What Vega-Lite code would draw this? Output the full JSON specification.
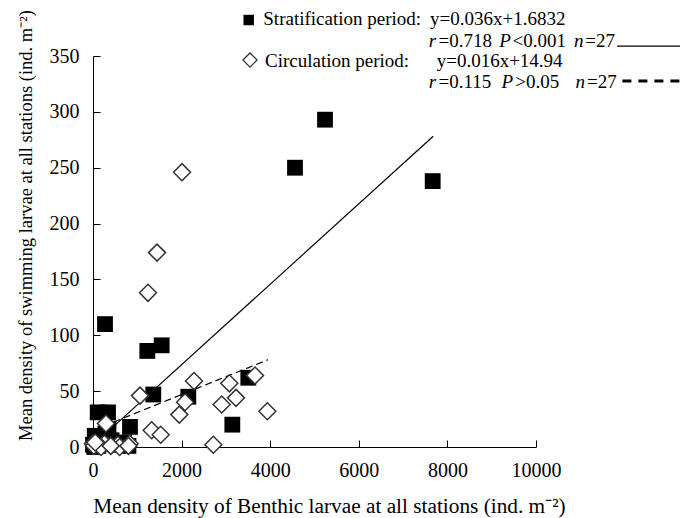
{
  "$schema": "https://vega.github.io/schema/vega-lite/v6.json",
  "width": 443,
  "height": 391,
  "autosize": {"type": "none"},
  "padding": {"left": 93, "top": 56, "right": 147, "bottom": 71},
  "background": "white",
  "config": {
    "view": {"stroke": null},
    "font": "Liberation Serif",
    "text": {"font": "Liberation Serif"},
    "axis": {"labelFont": "Liberation Serif", "titleFont": "Liberation Serif"}
  },
  "datasets": {
    "points": [
      {"period": "Stratification", "benthic": 0, "swimming": 2},
      {"period": "Stratification", "benthic": 30, "swimming": 0},
      {"period": "Stratification", "benthic": 80, "swimming": 5},
      {"period": "Stratification", "benthic": 150, "swimming": 3},
      {"period": "Stratification", "benthic": 200, "swimming": 8},
      {"period": "Stratification", "benthic": 280, "swimming": 12},
      {"period": "Stratification", "benthic": 350, "swimming": 16},
      {"period": "Stratification", "benthic": 420, "swimming": 6},
      {"period": "Stratification", "benthic": 500, "swimming": 3},
      {"period": "Stratification", "benthic": 600, "swimming": 2},
      {"period": "Stratification", "benthic": 700, "swimming": 4},
      {"period": "Stratification", "benthic": 800, "swimming": 1},
      {"period": "Stratification", "benthic": 40, "swimming": 10},
      {"period": "Stratification", "benthic": 120, "swimming": 1},
      {"period": "Stratification", "benthic": 106, "swimming": 31},
      {"period": "Stratification", "benthic": 339, "swimming": 31},
      {"period": "Stratification", "benthic": 835, "swimming": 18},
      {"period": "Stratification", "benthic": 271, "swimming": 110},
      {"period": "Stratification", "benthic": 1226, "swimming": 86},
      {"period": "Stratification", "benthic": 1550, "swimming": 91},
      {"period": "Stratification", "benthic": 1361, "swimming": 47},
      {"period": "Stratification", "benthic": 2151, "swimming": 45},
      {"period": "Stratification", "benthic": 3506, "swimming": 62},
      {"period": "Stratification", "benthic": 3145, "swimming": 20},
      {"period": "Stratification", "benthic": 4560, "swimming": 250},
      {"period": "Stratification", "benthic": 5237, "swimming": 293},
      {"period": "Stratification", "benthic": 7668, "swimming": 238},
      {"period": "Circulation", "benthic": 2009, "swimming": 246},
      {"period": "Circulation", "benthic": 1445, "swimming": 174},
      {"period": "Circulation", "benthic": 1241, "swimming": 138},
      {"period": "Circulation", "benthic": 1061, "swimming": 46},
      {"period": "Circulation", "benthic": 2280, "swimming": 59},
      {"period": "Circulation", "benthic": 2077, "swimming": 40},
      {"period": "Circulation", "benthic": 1948, "swimming": 29},
      {"period": "Circulation", "benthic": 1325, "swimming": 15},
      {"period": "Circulation", "benthic": 1528, "swimming": 11},
      {"period": "Circulation", "benthic": 2716, "swimming": 2},
      {"period": "Circulation", "benthic": 2905, "swimming": 38},
      {"period": "Circulation", "benthic": 3077, "swimming": 57},
      {"period": "Circulation", "benthic": 3228, "swimming": 44},
      {"period": "Circulation", "benthic": 3657, "swimming": 64},
      {"period": "Circulation", "benthic": 3935, "swimming": 32},
      {"period": "Circulation", "benthic": 293, "swimming": 21},
      {"period": "Circulation", "benthic": 0, "swimming": 3},
      {"period": "Circulation", "benthic": 226, "swimming": 2},
      {"period": "Circulation", "benthic": 564, "swimming": 2},
      {"period": "Circulation", "benthic": 828, "swimming": 3},
      {"period": "Circulation", "benthic": 20, "swimming": 1},
      {"period": "Circulation", "benthic": 260, "swimming": 3},
      {"period": "Circulation", "benthic": 180, "swimming": 0},
      {"period": "Circulation", "benthic": 600, "swimming": 0},
      {"period": "Circulation", "benthic": 800, "swimming": 1},
      {"period": "Circulation", "benthic": 50, "swimming": 4},
      {"period": "Circulation", "benthic": 400, "swimming": 1}
    ],
    "fits": [
      {"period": "Stratification", "benthic": 0, "swimming": 1.68},
      {"period": "Stratification", "benthic": 7680, "swimming": 278.2},
      {"period": "Circulation", "benthic": 0, "swimming": 14.94},
      {"period": "Circulation", "benthic": 3950, "swimming": 78.14}
    ],
    "keySymbols": [
      {"period": "Stratification", "benthic": 3515, "swimming": 382.2},
      {"period": "Circulation", "benthic": 3544, "swimming": 346.4}
    ],
    "keyLines": [
      {"period": "Stratification", "benthic": 11830, "swimming": 358.9},
      {"period": "Stratification", "benthic": 13250, "swimming": 358.9},
      {"period": "Circulation", "benthic": 11950, "swimming": 327.6},
      {"period": "Circulation", "benthic": 13318, "swimming": 327.6}
    ],
    "keyText": [
      {"text": "Stratification period:", "benthic": 3844, "swimming": 377.5},
      {"text": "y=0.036x+1.6832", "benthic": 7607, "swimming": 377.5},
      {"text": "=0.718", "benthic": 7800, "swimming": 358.3},
      {"text": "<0.001", "benthic": 9470, "swimming": 358.3},
      {"text": "=27", "benthic": 11110, "swimming": 358.3},
      {"text": "Circulation period:", "benthic": 3883, "swimming": 340.4},
      {"text": "y=0.016x+14.94", "benthic": 7758, "swimming": 340.4},
      {"text": "=0.115", "benthic": 7800, "swimming": 321.1},
      {"text": ">0.05", "benthic": 9530, "swimming": 321.1},
      {"text": "=27", "benthic": 11150, "swimming": 321.1}
    ],
    "keyItalic": [
      {"text": "r", "benthic": 7580, "swimming": 358.3},
      {"text": "P", "benthic": 9170, "swimming": 358.3},
      {"text": "n", "benthic": 10860, "swimming": 358.3},
      {"text": "r", "benthic": 7580, "swimming": 321.1},
      {"text": "P", "benthic": 9220, "swimming": 321.1},
      {"text": "n", "benthic": 10890, "swimming": 321.1}
    ]
  },
  "encoding": {
    "x": {
      "field": "benthic",
      "type": "quantitative",
      "scale": {"domain": [0, 10000], "nice": false, "zero": false},
      "axis": {
        "title": "Mean density of Benthic larvae at all stations (ind. m⁻²)",
        "values": [0, 2000, 4000, 6000, 8000, 10000],
        "format": "d",
        "grid": false,
        "labelFont": "Liberation Serif",
        "labelFontSize": 20,
        "labelColor": "black",
        "labelFlush": false,
        "labelOverlap": false,
        "labelPadding": 20,
        "tickSize": -7,
        "tickColor": "black",
        "tickWidth": 1,
        "domainColor": "black",
        "domainWidth": 1,
        "titleFont": "Liberation Serif",
        "titleFontSize": 21.3,
        "titleFontWeight": "normal",
        "titleColor": "black",
        "titleX": 236,
        "titleY": 65,
        "titleBaseline": "alphabetic"
      }
    },
    "y": {
      "field": "swimming",
      "type": "quantitative",
      "scale": {"domain": [0, 350], "nice": false, "zero": false},
      "axis": {
        "title": "Mean density of swimming larvae at all stations (ind. m⁻²)",
        "values": [0, 50, 100, 150, 200, 250, 300, 350],
        "format": "d",
        "grid": false,
        "labelFont": "Liberation Serif",
        "labelFontSize": 20,
        "labelColor": "black",
        "labelFlush": false,
        "labelOverlap": false,
        "labelPadding": 21,
        "tickSize": -7,
        "tickColor": "black",
        "tickWidth": 1,
        "domainColor": "black",
        "domainWidth": 1,
        "titleFont": "Liberation Serif",
        "titleFontSize": 18.5,
        "titleFontWeight": "normal",
        "titleColor": "black",
        "titleX": -62,
        "titleY": 169,
        "titleBaseline": "alphabetic"
      }
    }
  },
  "layer": [
    {
      "data": {"name": "fits"},
      "transform": [{"filter": "datum.period === 'Stratification'"}],
      "mark": {"type": "line", "color": "black", "strokeWidth": 1.2}
    },
    {
      "data": {"name": "fits"},
      "transform": [{"filter": "datum.period === 'Circulation'"}],
      "mark": {"type": "line", "color": "black", "strokeWidth": 1.2, "strokeDash": [7, 4]}
    },
    {
      "data": {"name": "points"},
      "transform": [{"filter": "datum.period === 'Stratification'"}],
      "mark": {"type": "point", "shape": "square", "filled": true, "color": "black", "opacity": 1, "size": 250}
    },
    {
      "data": {"name": "points"},
      "transform": [{"filter": "datum.period === 'Circulation'"}],
      "mark": {"type": "point", "shape": "diamond", "filled": false, "fill": "white", "fillOpacity": 1, "stroke": "#333333", "strokeWidth": 1.5, "opacity": 1, "size": 289}
    },
    {
      "data": {"name": "keySymbols"},
      "transform": [{"filter": "datum.period === 'Stratification'"}],
      "mark": {"type": "point", "shape": "square", "filled": true, "color": "black", "opacity": 1, "size": 110, "clip": false}
    },
    {
      "data": {"name": "keySymbols"},
      "transform": [{"filter": "datum.period === 'Circulation'"}],
      "mark": {"type": "point", "shape": "diamond", "filled": false, "fill": "white", "fillOpacity": 1, "stroke": "#333333", "strokeWidth": 1.3, "opacity": 1, "size": 200, "clip": false}
    },
    {
      "data": {"name": "keyLines"},
      "transform": [{"filter": "datum.period === 'Stratification'"}],
      "mark": {"type": "line", "color": "black", "strokeWidth": 1.2, "clip": false}
    },
    {
      "data": {"name": "keyLines"},
      "transform": [{"filter": "datum.period === 'Circulation'"}],
      "mark": {"type": "line", "color": "black", "strokeWidth": 3, "strokeDash": [9, 7], "clip": false}
    },
    {
      "data": {"name": "keyText"},
      "mark": {"type": "text", "align": "left", "baseline": "alphabetic", "fontSize": 19, "font": "Liberation Serif", "color": "black", "clip": false},
      "encoding": {"text": {"field": "text"}}
    },
    {
      "data": {"name": "keyItalic"},
      "mark": {"type": "text", "align": "left", "baseline": "alphabetic", "fontSize": 19, "font": "Liberation Serif", "fontStyle": "italic", "color": "black", "clip": false},
      "encoding": {"text": {"field": "text"}}
    }
  ]
}
